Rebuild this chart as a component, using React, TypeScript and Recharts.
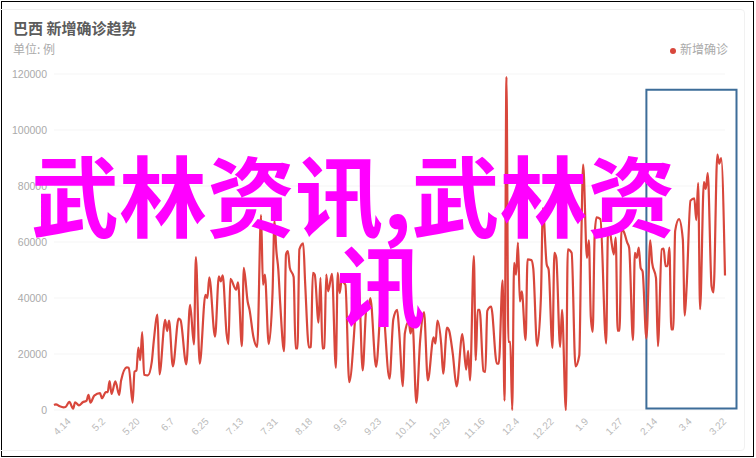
import React from 'react';
import {
  LineChart,
  Line,
  XAxis,
  YAxis,
  CartesianGrid,
  Legend,
  ReferenceArea
} from 'recharts';

// days since 4.6, only the turning points
const days = [
  0, 1, 3, 5, 6, 8, 10, 11, 13, 15, 17, 18, 19, 21, 24, 25, 27, 28, 29, 30, 32, 34, 35, 38, 39, 41, 42, 43, 44, 45, 46, 47, 49, 51, 52, 54, 55, 58, 59, 60, 62, 65, 66, 69, 71, 73, 74, 76, 79, 80, 81, 84, 86, 87, 88, 90, 91, 92, 95, 96, 98,
  99, 101, 102, 104, 106, 108, 109, 110, 112, 114, 115, 116, 117, 118, 120, 121, 122, 123, 125, 126, 127, 128, 130, 131, 133, 134, 135, 136, 138, 139, 140, 141, 142, 143, 145, 147, 148, 149, 150, 152, 154,
  159, 161, 163, 164, 165, 168, 171, 175, 177, 179, 180, 182, 183, 185, 186, 187, 189, 191, 193, 195, 198, 199, 200, 202, 203, 205, 206, 208, 210, 213, 215, 216, 217, 219, 220, 221, 222, 224, 225, 226, 228, 231, 232, 234, 235,
  236, 237, 238, 239, 240, 241, 242, 243, 244, 246, 247, 249, 250, 252, 254, 255, 257, 258, 260, 261, 262, 264, 265, 267, 268, 270, 272, 274, 275,
  276, 278, 279, 280, 281, 282, 283, 285, 288, 289, 290, 292, 293, 294, 295, 296, 297, 299, 300, 302, 303, 304, 305, 306, 307, 309,
  311, 312, 314, 315, 317, 318, 319, 320, 321, 322, 323, 324, 326, 328, 329, 330, 332, 334, 335, 336, 337, 339, 340, 341, 343, 344, 346, 347, 348, 350
];

const newCases = [
  1800, 2040, 1320, 960, 1080, 2880, 480, 2760, 1680, 2760, 3360, 5400, 2640, 5160, 6000, 4200, 6360, 6400, 10320, 5760, 10200, 5400, 10560, 15240, 15120, 2640, 13680, 14160, 22320, 17760, 27840, 12600, 12360, 17160, 24360, 34080, 12720, 32160, 28200, 31920, 15600, 32640, 32100, 16320, 37560, 23400, 54600, 16560, 41160, 39960, 47400, 26160, 47760, 45960, 48120, 27360, 23520, 46800, 42960, 45600, 22800,
  50760, 38760, 35760, 26160, 22560, 69600, 44760, 48360, 23520, 42000, 67560, 56760, 50160, 38000, 21000, 55560, 56760, 50760, 47520, 21960, 21960, 57360, 59520, 45360, 22320, 22560, 48960, 48360, 31200, 47160, 21960, 22200, 48360, 42360, 48600, 15120, 48960, 41760, 45960, 44760, 9960,
  44160, 14160, 36360, 36000, 40000, 15360, 40000, 11160, 32400, 35760, 28560, 8520, 27360, 31560, 27360, 30960, 2520, 24960, 34920, 10560, 25920, 23760, 31920, 23160, 12960, 29400, 28560, 20160, 8400, 27120, 14400, 21120, 10560, 54960, 17760, 35760, 35760, 13920, 13600, 35400, 36960, 16560, 16560, 46320, 3360,
  119000, 24360, 24360, 0, 52560, 48360, 59760, 38760, 42360, 24960, 53760, 53520, 50500, 22800, 40560, 72000, 51960, 50160, 22200, 56160, 54360, 22560, 35760, 0, 57360, 56160, 15600, 19560, 58560,
  87600, 54360, 60600, 33360, 27960, 62160, 68760, 68160, 23760, 64560, 63360, 55560, 61560, 28320, 28320, 64320, 63960, 59760, 57960, 24960, 56160, 54360, 57960, 50760, 49560, 25560,
  60600, 52560, 47160, 22800, 57360, 57600, 51360, 51360, 57960, 28800, 28800, 63960, 68160, 60960, 33720, 44160, 74760, 75600, 67800, 81000, 36000, 81360, 78960, 84600, 44160, 42000, 91200, 87960, 90000, 48000
];

const tickDays = [8, 26, 44, 62, 80, 98, 116, 134, 152, 170, 188, 206, 224, 242, 260, 278, 296, 314, 332, 350];
const tickLabels = ['4.14', '5.2', '5.20', '6.7', '6.25', '7.13', '7.31', '8.18', '9.5', '9.23', '10.11', '10.29', '11.16', '12.4', '12.22', '1.9', '1.27', '2.14', '3.4', '3.22'];
const yTicks = [0, 20000, 40000, 60000, 80000, 100000, 120000];

const data = days.map((day, i) => ({ day, value: newCases[i] }));

const SANS = '"Liberation Sans", "Noto Sans CJK SC", sans-serif';
const CJK = '"Noto Sans CJK SC", sans-serif';

export default function App() {
  return (
    <div style={{ position: 'absolute', left: 0, top: 0, width: 756, height: 458, background: '#fff', overflow: 'hidden', fontFamily: SANS }}>
      {/* black frame and the card inside it */}
      <div style={{ position: 'absolute', left: 1, top: 1, width: 751, height: 454, border: '1px solid #000' }} />
      <div style={{ position: 'absolute', left: -6, top: 9, width: 749, height: 440, border: '1px solid #f1f1f1', borderRadius: 4 }} />

      <div style={{ position: 'absolute', left: 13, top: 18, fontSize: 15, fontWeight: 'bold', color: '#5c5c5c', fontFamily: CJK, lineHeight: '20px' }}>巴西 新增确诊趋势</div>
      <div style={{ position: 'absolute', left: 13, top: 40, fontSize: 12, color: '#aaaaaa', fontFamily: CJK, lineHeight: '17px' }}>单位: 例</div>

      <div style={{ position: 'absolute', left: 0, top: 0 }}>
        <LineChart width={756} height={458} data={data} margin={{ top: 74, right: 31, bottom: 8, left: 8 }}>
          <CartesianGrid stroke="#f5f5f5" vertical={false} />
          <XAxis
            dataKey="day"
            type="number"
            domain={[0, 350]}
            ticks={tickDays}
            interval={0}
            tickFormatter={(d: number) => tickLabels[tickDays.indexOf(d)]}
            axisLine={false}
            tickLine={false}
            height={40}
            angle={-45}
            textAnchor="end"
            tickMargin={1}
            tick={{ fill: '#bbbbbb', fontSize: 10, dx: -3 }}
          />
          <YAxis
            type="number"
            domain={[0, 120000]}
            ticks={yTicks}
            interval={0}
            axisLine={false}
            tickLine={false}
            width={46}
            tickMargin={1}
            tick={{ fill: '#aaaaaa', fontSize: 10.5 }}
          />
          <Legend
            verticalAlign="middle"
            align="center"
            iconType="circle"
            iconSize={6}
            wrapperStyle={{ position: 'absolute', left: 664, top: 40, width: 80, height: 16, fontSize: 12, fontFamily: CJK }}
            formatter={(v: string) => <span style={{ color: '#aaaaaa' }}>{v}</span>}
          />
          <Line
            type="monotone"
            dataKey="value"
            name="新增确诊"
            stroke="#d8473c"
            strokeWidth={2.2}
            dot={false}
            isAnimationActive={false}
          />
          <ReferenceArea
            x1={309}
            x2={356}
            y1={500}
            y2={114400}
            ifOverflow="visible"
            fill="none"
            fillOpacity={0}
            stroke="#3d6d99"
            strokeWidth={2}
          />
        </LineChart>
      </div>

      {/* watermark over the chart */}
      <div style={{ position: 'absolute', left: 31, top: 142, whiteSpace: 'nowrap', fontSize: 88, fontWeight: 'bold', color: '#ff00ff', fontFamily: CJK, lineHeight: '100px' }}>武林资讯,武林资</div>
      <div style={{ position: 'absolute', left: 337, top: 232, whiteSpace: 'nowrap', fontSize: 88, fontWeight: 'bold', color: '#ff00ff', fontFamily: CJK, lineHeight: '100px' }}>讯</div>
    </div>
  );
}
